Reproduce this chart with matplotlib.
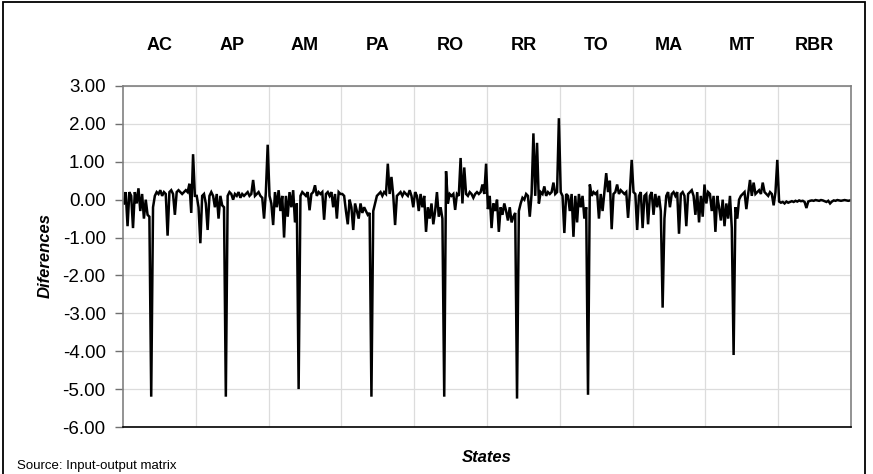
import numpy as np
import matplotlib
matplotlib.use('Agg')
import matplotlib.pyplot as plt
from matplotlib.patches import Rectangle
from matplotlib.ticker import FormatStrFormatter

# differences by sector, 40 sectors per state
states = ['AC', 'AP', 'AM', 'PA', 'RO', 'RR', 'TO', 'MA', 'MT', 'RBR']

ac = [-0.1, 0.2, -0.7, 0.2, 0.1, -0.75, 0.2, -0.1, 0.3, -0.3,
      0.15, -0.5, 0.0, -0.4, -0.45, -5.2, -0.2, 0.1, 0.2, 0.15,
      0.25, 0.1, 0.2, 0.15, -0.95, 0.2, 0.25, 0.15, -0.4, 0.2,
      0.25, 0.2, 0.15, 0.2, 0.25, 0.2, 0.42, -0.35, 1.2, 0.1]
ap = [0.1, -0.2, -1.15, 0.1, 0.15, -0.1, -0.8, 0.1, 0.2, 0.1,
      -0.2, 0.15, -0.5, 0.1, -0.15, -0.2, -5.2, 0.1, 0.2, 0.15,
      0.0, 0.15, 0.1, 0.2, 0.05, 0.15, 0.1, 0.15, 0.2, 0.1,
      0.15, 0.52, 0.1, 0.15, 0.2, 0.1, 0.05, -0.5, 0.2, 1.45]
am = [0.1, -0.1, -0.67, 0.2, -0.2, 0.25, -0.3, 0.1, -1.0, 0.1,
      -0.45, 0.2, -0.2, 0.25, -0.6, -0.1, -5.0, 0.1, 0.2, 0.15,
      0.1, 0.2, -0.28, 0.15, 0.2, 0.38, 0.1, 0.2, 0.15, 0.2,
      -0.53, 0.15, 0.2, 0.1, 0.2, -0.2, 0.15, -0.5, 0.2, 0.15]
pa = [0.15, 0.1, -0.3, -0.65, 0.0, -0.2, -0.8, -0.1, -0.3, -0.5,
      -0.1, -0.35, -0.2, -0.3, -0.4, -0.35, -5.2, -0.3, -0.1, 0.1,
      0.15, 0.2, 0.1, 0.2, 0.15, 0.95, 0.15, 0.6, 0.1, -0.67,
      0.1, 0.15, 0.2, 0.1, 0.2, 0.15, 0.1, 0.25, 0.1, -0.2]
ro = [0.2, 0.1, -0.3, 0.15, -0.2, 0.1, -0.85, -0.2, -0.5, -0.1,
      -0.65, -0.3, 0.2, -0.45, -0.2, -0.5, -5.2, 0.75, -0.1, 0.15,
      0.1, 0.15, -0.27, 0.15, 0.1, 1.1, -0.1, 0.85, 0.15, 0.1,
      0.2, 0.15, 0.05, 0.15, 0.2, 0.15, 0.2, 0.4, 0.15, 0.95]
rr = [-0.25, 0.1, -0.75, -0.1, -0.3, 0.0, -0.85, -0.2, -0.4, -0.1,
      -0.3, -0.55, -0.2, -0.6, -0.45, -0.35, -5.25, -0.3, -0.1, 0.05,
      0.0, 0.15, 0.1, -0.45, 0.15, 1.75, 0.1, 1.5, -0.1, 0.2,
      0.15, 0.35, 0.1, 0.2, 0.15, 0.2, 0.45, 0.15, 0.2, 2.15]
to = [0.2, 0.1, -0.88, 0.15, 0.1, -0.3, 0.15, -0.98, 0.1, -0.6,
      0.15, -0.2, 0.1, -0.5, -0.2, -5.15, 0.4, 0.1, 0.2, 0.15,
      0.2, -0.5, 0.15, -0.3, 0.2, 0.7, 0.2, 0.5, -0.78, 0.15,
      0.2, 0.4, 0.15, 0.25, 0.2, 0.15, 0.2, -0.48, 0.2, 1.05]
ma = [0.2, 0.15, -0.8, 0.1, 0.2, -0.75, 0.1, 0.15, -0.65, 0.1,
      0.2, -0.4, 0.15, -0.2, 0.1, -0.3, -2.85, -0.5, 0.1, 0.2,
      -0.2, 0.15, 0.2, 0.1, 0.2, -0.9, 0.15, 0.2, 0.1, -0.7,
      0.15, 0.2, 0.25, 0.1, -0.4, 0.2, -0.6, 0.1, -0.45, 0.4]
mt = [-0.1, 0.2, 0.15, -0.3, 0.1, -0.85, 0.1, -0.2, -0.55, 0.0,
      -0.7, -0.1, -0.5, 0.1, -0.75, -4.1, -0.2, -0.5, 0.0, 0.1,
      0.15, 0.2, -0.25, 0.15, 0.52, 0.1, 0.45, 0.15, 0.2, 0.25,
      0.15, 0.45, 0.2, 0.15, 0.1, 0.2, 0.15, -0.15, 0.2, 1.05]
rbr = [-0.05, -0.08, -0.06, -0.1, -0.05, -0.08, -0.06, -0.04, -0.06, -0.03,
       -0.05, -0.02, -0.04, -0.03, -0.06, -0.22, -0.05, -0.03, -0.02, -0.03,
       -0.01, -0.02, -0.03, -0.01, -0.02, -0.04, -0.06, -0.03, -0.1, -0.05,
       -0.02, -0.03, -0.01, -0.02, -0.03, -0.02, -0.01, -0.02, -0.03, -0.02]

yticks = [3, 2, 1, 0, -1, -2, -3, -4, -5, -6]

series = [ac, ap, am, pa, ro, rr, to, ma, mt, rbr]
values = np.concatenate(series)
per_state = len(ac)
x = np.arange(len(values)) + 0.5

plt.rcParams['font.family'] = ['Liberation Sans', 'DejaVu Sans']
plt.rcParams['axes.unicode_minus'] = False

fig = plt.figure(figsize=(8.73, 4.74), dpi=100)
ax = fig.add_axes([123 / 873, 1 - 427 / 474, 728 / 873, 341 / 474])

ax.plot(x, values, color='black', lw=1.8, solid_joinstyle='miter')

ax.set_xlim(0, len(values))
ax.set_ylim(-6, 3)
ax.set_yticks(yticks)
ax.yaxis.set_major_formatter(FormatStrFormatter('%.2f'))
ax.set_xticks(np.arange(per_state, len(values), per_state))
ax.tick_params(axis='x', length=0, labelbottom=False)
ax.tick_params(axis='y', direction='out', length=6, width=1, color='#707070',
               pad=6.5, labelsize=13.5)
ax.grid(True, color='#dcdcdc', lw=0.9)
ax.set_axisbelow(True)

for side in ['left', 'top', 'right']:
    ax.spines[side].set_color('#808080')
    ax.spines[side].set_linewidth(1.2)
ax.spines['bottom'].set_color('black')
ax.spines['bottom'].set_linewidth(1.2)

# state names above each block
for k, name in enumerate(states):
    ax.text((k + 0.5) * per_state, 1.119, name, transform=ax.get_xaxis_transform(),
            ha='center', va='center', fontsize=13, fontweight='bold')

fig.text(45 / 873, 1 - 255 / 474, 'Diferences', rotation=90, ha='center', va='center',
         fontsize=12, fontweight='bold', fontstyle='italic')
fig.text(487 / 873, 1 - 457 / 474, 'States', ha='center', va='center',
         fontsize=12, fontweight='bold', fontstyle='italic')
fig.text(17 / 873, 0.004, 'Source: Input-output matrix', ha='left', va='bottom', fontsize=9.5)

fig.patches.append(Rectangle((3 / 873, -0.05), 862 / 873, 1.05 - 1.5 / 474,
                             transform=fig.transFigure, fill=False,
                             edgecolor='black', lw=1.3))

fig.savefig('out.png', dpi=100)
